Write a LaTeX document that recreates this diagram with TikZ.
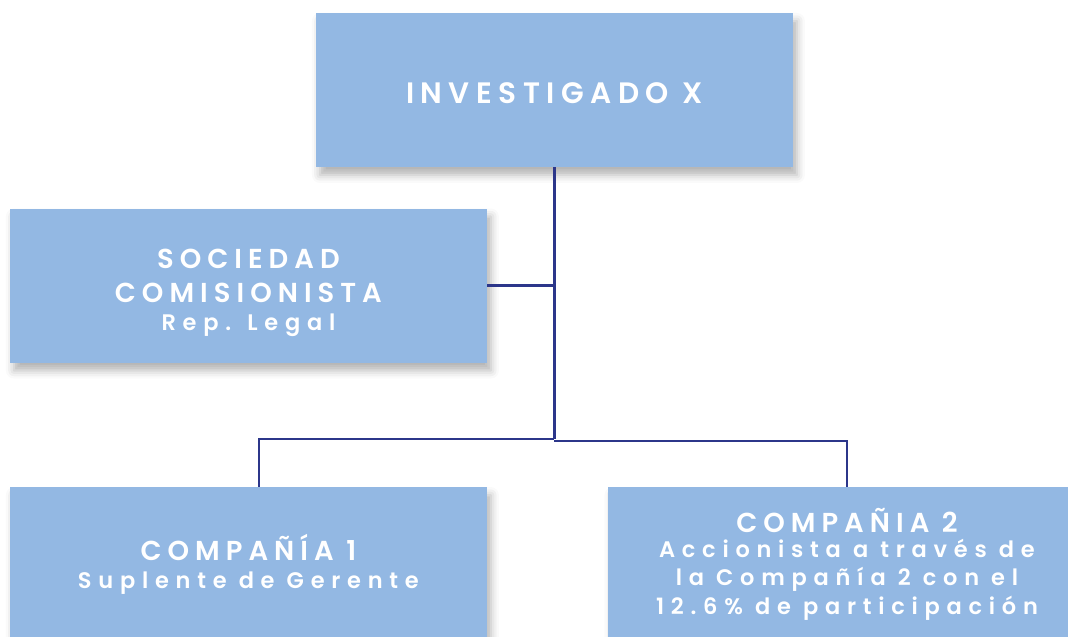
\documentclass[tikz,border=0pt]{standalone}
\usepackage{fontspec}
\newfontfamily\boxfont[LetterSpace=22, UprightFont={* SemiBold}]{Poppins}
\newfontfamily\subfont[LetterSpace=30, UprightFont={* SemiBold}]{Poppins}
\usepackage{tikz}
\usetikzlibrary{positioning, calc, shadows.blur}
\definecolor{myblue}{RGB}{147,184,227}
\definecolor{mynavy}{RGB}{44,54,138}
\tikzset{
  block/.style={rectangle, fill=myblue, text=white,
    minimum width=11.925cm, minimum height=3.85cm, align=center,
    inner sep=0pt,
    blur shadow={shadow xshift=0.1cm, shadow yshift=-0.2cm,
      shadow blur radius=0.2cm, shadow opacity=30}},
  line/.style={line width=1.7pt, color=mynavy}
}
\newcommand{\subline}{\subfont\fontsize{16}{20}\selectfont}

\begin{document}
\begin{tikzpicture}
  \useasboundingbox (0,0) rectangle (26.7,15.9);

  \node[block, font=\boxfont\fontsize{21}{24}\selectfont] (inv) at (13.86,13.65)
    {\rule{0pt}{20pt}INVESTIGADO X};
  \node[block, below=1.025cm of inv, xshift=-7.65cm,
    font=\boxfont\fontsize{19.5}{24}\selectfont] (soc)
    {\rule{0pt}{24pt}SOCIEDAD\\COMISIONISTA\\[-4pt]\subline Rep. Legal};
  \node[block, below=3.1cm of soc, font=\boxfont\fontsize{19.5}{20}\selectfont] (comp1)
    {COMPAÑÍA 1\\\subline Suplente de Gerente};
  \node[block, right=3.025cm of comp1, font=\boxfont\fontsize{19.5}{20}\selectfont] (comp2)
    {COMPAÑIA 2\\[-2pt]
     \subline Accionista a través de\\
     \subline la Compañía 2 con el\\
     \subline 12.6\% de participación};

  \coordinate (split) at ($(inv.south |- comp1.north)+(0,1.2)$);
  \coordinate (leftdrop) at ($(comp1.north)+(0.26,0)$);

  \draw[line] (inv.south) -- (split);
  \draw[line] (soc.east) -- (soc.east -| inv.south);
  \draw[line] (leftdrop) -- (leftdrop |- split) -- (split);
  \draw[line] ($(split)+(0,-0.05)$) -| (comp2.north);
\end{tikzpicture}
\end{document}
